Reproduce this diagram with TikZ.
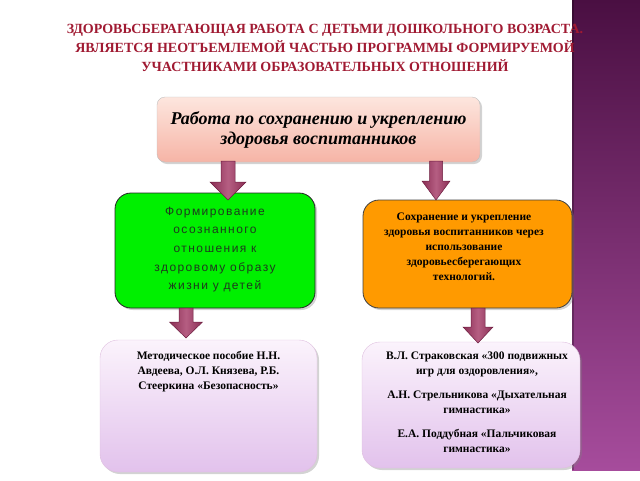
\documentclass[tikz,border=0pt]{standalone}
\usepackage{fontspec}
\setmainfont{Liberation Serif}
\newfontfamily\greensans{Liberation Sans}[LetterSpace=12]
\usetikzlibrary{shadows}
\definecolor{titlered}{HTML}{A01A32}
\definecolor{arrowfill}{HTML}{A33663}
\definecolor{arrowedge}{HTML}{6E1E40}
\definecolor{stripTop}{HTML}{4A0F42}
\definecolor{stripBot}{HTML}{A64C9C}
\definecolor{pinkTop}{HTML}{FDE6DE}
\definecolor{pinkBot}{HTML}{F6B4A6}
\definecolor{lavTop}{HTML}{FBF3FC}
\definecolor{lavBot}{HTML}{E2C2EC}
\definecolor{greenfill}{HTML}{00F000}
\definecolor{orangefill}{HTML}{FF9A00}
\definecolor{greentext}{HTML}{1E3A1E}
\tikzset{
  softshadow/.style={drop shadow={opacity=0.35,shadow xshift=2pt,shadow yshift=-2pt}},
  topbox/.style={draw=black!25,rounded corners=8pt,top color=pinkTop,bottom color=pinkBot,softshadow,inner sep=0pt},
  greenbox/.style={draw=black!85,line width=0.8pt,rounded corners=16pt,fill=greenfill,softshadow,inner sep=0pt},
  orangebox/.style={draw=black!75,line width=0.8pt,rounded corners=16pt,fill=orangefill,softshadow,inner sep=0pt},
  lavbox/.style={draw=violet!25,rounded corners=18pt,top color=lavTop,bottom color=lavBot,softshadow,inner sep=0pt},
  blockarrow/.style={draw=arrowedge,line width=0.5pt,left color=arrowfill!85!black,right color=arrowfill!85!black,middle color=arrowfill!80!white},
  titletext/.style={text=titlered,font=\bfseries\fontsize{14}{19}\selectfont,align=center},
  boxtext/.style={font=\bfseries\fontsize{11.5}{15}\selectfont,align=center,inner sep=0pt},
}
\newcommand{\barrow}[6]{% x, ytop, yhead, ytip, shaft half, head half
  \path[blockarrow] (#1-#5,#2) -- (#1+#5,#2) -- (#1+#5,#3) -- (#1+#6,#3) -- (#1,#4) -- (#1-#6,#3) -- (#1-#5,#3) -- cycle;}
\begin{document}
\begin{tikzpicture}[x=1pt,y=-1pt]
\useasboundingbox (0,0) rectangle (640,480);
% purple strip
\shade[top color=stripTop,bottom color=stripBot] (572,0) rectangle (640,470);
\fill[black,opacity=0.25] (572,0) rectangle (574,470);
% title
\node[titletext] (title) at (325,48) {ЗДОРОВЬСБЕРАГАЮЩАЯ РАБОТА С ДЕТЬМИ ДОШКОЛЬНОГО ВОЗРАСТА.\\ЯВЛЯЕТСЯ НЕОТЪЕМЛЕМОЙ ЧАСТЬЮ ПРОГРАММЫ ФОРМИРУЕМОЙ\\УЧАСТНИКАМИ ОБРАЗОВАТЕЛЬНЫХ ОТНОШЕНИЙ};
% boxes
\node[topbox,minimum width=323pt,minimum height=65pt] (top) at (318.5,129.5) {};
\node[greenbox,minimum width=200pt,minimum height=115pt] (green) at (215,250.5) {};
\node[orangebox,minimum width=209pt,minimum height=108pt] (orange) at (467.5,254) {};
\node[lavbox,minimum width=217pt,minimum height=132pt] (bl) at (208.5,406) {};
\node[lavbox,minimum width=218pt,minimum height=126pt] (br) at (471,405) {};
% arrows
\barrow{228}{161}{182}{200}{7}{18}
\barrow{436}{161}{181}{200}{6.5}{14}
\barrow{186}{308}{322}{338}{7}{16.5}
\barrow{478}{308}{327}{343}{7}{15}
% texts
\node[font=\bfseries\itshape\fontsize{18}{20}\selectfont,align=center,inner sep=0pt] (toptext) at (top.center) {Работа по сохранению и укреплению\\здоровья воспитанников};
\node[font=\greensans\fontsize{12}{18.7}\selectfont,text=greentext,align=center,inner sep=0pt] (greentxt) at (215,249.5) {Формирование\\осознанного\\отношения к\\здоровому образу\\жизни у детей};
\node[boxtext] (orangetxt) at (464,247) {Сохранение и укрепление\\здоровья воспитанников через\\использование\\здоровьесберегающих\\технологий.};
\node[boxtext,anchor=north] (bltxt) at (208.5,351) {Методическое пособие Н.Н.\\Авдеева, О.Л. Князева, Р.Б.\\Стееркина «Безопасность»};
\node[boxtext,anchor=north] (brtxt) at (477,352) {В.Л. Страковская «300 подвижных\\игр для оздоровления»,\\[9pt]А.Н. Стрельникова «Дыхательная\\гимнастика»\\[9pt]Е.А. Поддубная «Пальчиковая\\гимнастика»};
\end{tikzpicture}
\end{document}
